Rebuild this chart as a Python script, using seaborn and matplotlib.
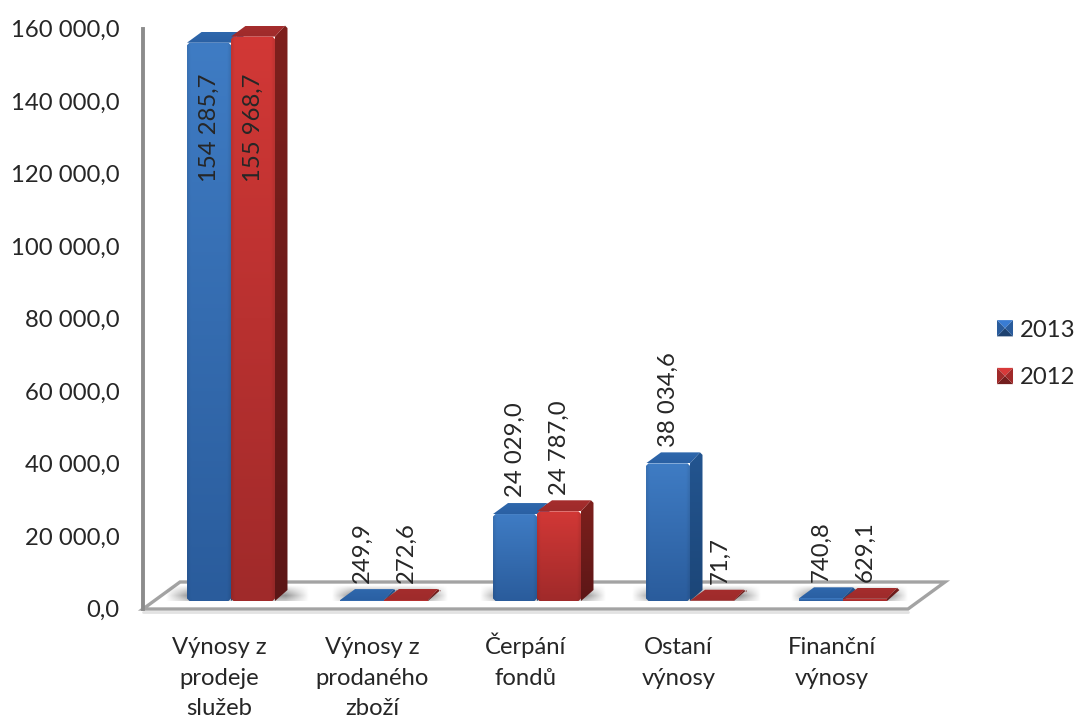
import numpy as np
import pandas as pd
import matplotlib
matplotlib.use('Agg')
import matplotlib.pyplot as plt
from matplotlib.colors import to_rgb
from matplotlib.legend_handler import HandlerBase
from matplotlib.lines import Line2D
from matplotlib.patches import Polygon, Rectangle
import seaborn as sns

categories = ['Výnosy z\nprodeje\nslužeb', 'Výnosy z\nprodaného\nzboží', 'Čerpání\nfondů',
              'Ostaní\nvýnosy', 'Finanční\nvýnosy']
values_2013 = [154285.7, 249.9, 24029.0, 38034.6, 740.8]
values_2012 = [155968.7, 272.6, 24787.0, 71.7, 629.1]
series_names = ['2013', '2012']
y_ticks = [0, 20000, 40000, 60000, 80000, 100000, 120000, 140000, 160000]

W, H = 1076, 718
FONT = 'Lato'
FS = 17.2
TEXT = '#262626'
GREY = '#a3a3a3'
DEPTH_X, DEPTH_Y = 12.5, 11  # pixels
CHAMFER = 2.5  # pixels
colors = {
    '2013': dict(front=('#3f7cc4', '#2a5c9c'), top=('#2f68ad', '#2a60a3'), side=('#235590', '#1c4678')),
    '2012': dict(front=('#d23836', '#a02a2a'), top=('#a52d2d', '#9e2b2b'), side=('#7e201d', '#5c1616')),
}

sns.set_theme(style='white', font=FONT)
plt.rcParams['font.family'] = [FONT, 'DejaVu Sans']


def fmt(v):
    return f'{v:,.1f}'.replace(',', ' ').replace('.', ',')


def rect_px(left, top, right, bottom):
    return [left / W, 1 - bottom / H, (right - left) / W, (bottom - top) / H]


def gradient(ax, pts, top, bottom, zorder, bevel=False):
    # paints a polygon with a vertical colour ramp
    pts = np.array(pts)
    c0, c1 = np.array(to_rgb(top)), np.array(to_rgb(bottom))
    ramp = np.linspace(0, 1, 200)[:, None, None]
    img = np.repeat(c0 + (c1 - c0) * ramp, 40, axis=1)
    if bevel:
        u = np.linspace(0, 1, 40)
        edge = 0.92 + 0.08 * np.clip(np.minimum(u, 1 - u) / 0.08, 0, 1)
        img = img * edge[None, :, None]
    x0, x1, y0, y1 = pts[:, 0].min(), pts[:, 0].max(), pts[:, 1].min(), pts[:, 1].max()
    im = ax.imshow(img, extent=(x0, x1, y0, y1), origin='upper', aspect='auto',
                   zorder=zorder, interpolation='bilinear')
    clip = Polygon(pts, closed=True, transform=ax.transData, fc='none', ec='none')
    ax.add_patch(clip)
    im.set_clip_path(clip)


def shadow(ax, x0, x1, y0, y1, zorder, fade):
    # soft grey pool around the foot of a bar pair
    u = np.linspace(0, 1, 300)
    v = np.linspace(0, 1, 40)
    a = np.outer(np.clip(np.minimum(v, 1 - v) / 0.5, 0, 1), np.clip(np.minimum(u, 1 - u) / fade, 0, 1))
    img = np.zeros((40, 300, 4))
    img[..., :3] = 0.4
    img[..., 3] = a * 0.7
    ax.imshow(img, extent=(x0, x1, y0, y1), aspect='auto', zorder=zorder, interpolation='bilinear')


class PyramidHandler(HandlerBase):
    def create_artists(self, legend, orig, xd, yd, width, height, fontsize, trans):
        c = np.array(to_rgb(orig.get_facecolor()))
        x0, y0 = -xd, -yd
        x1, y1 = x0 + width, y0 + height
        mx, my = (x0 + x1) / 2, (y0 + y1) / 2
        sides = [([(x0, y1), (x1, y1), (mx, my)], 1.35), ([(x0, y0), (x1, y0), (mx, my)], 0.72),
                 ([(x0, y0), (x0, y1), (mx, my)], 1.0), ([(x1, y0), (x1, y1), (mx, my)], 1.0)]
        return [Polygon(p, closed=True, fc=np.clip(c * k, 0, 1), ec='none', transform=trans) for p, k in sides]


df = pd.DataFrame({
    'category': categories * 2,
    'value': values_2013 + values_2012,
    'year': [series_names[0]] * 5 + [series_names[1]] * 5,
})

fig = plt.figure(figsize=(W / 100, H / 100), dpi=100, facecolor='white')

# floor of the 3D box, with the faint line under its front edge
floor = [(143, 609), (908, 609), (945, 582), (180, 582)]
fig.add_artist(Line2D([143 / W, 908 / W], [1 - 612 / H, 1 - 612 / H], color='#e2e2e2', lw=2,
                      transform=fig.transFigure, zorder=-2))
fig.add_artist(Polygon([(x / W, 1 - y / H) for x, y in floor], closed=True, fc='white', ec=GREY,
                       lw=2.4, transform=fig.transFigure, zorder=-1))

# wall axes carries the ticks, bars sit further back on the floor
wall = fig.add_axes(rect_px(143, 28.5, 908, 608.5))
wall.patch.set_alpha(0)
wall.set_xlim(-0.5, 4.5)
wall.set_ylim(0, 160000)
# baseline alignment goes by the last line, so two-line labels get an empty third line
wall.set_xticks(range(5), [c if c.count('\n') == 2 else c + '\n ' for c in categories])
wall.set_yticks(y_ticks, [fmt(v) for v in y_ticks])
wall.tick_params(axis='both', length=0, labelsize=FS, colors=TEXT)
wall.tick_params(axis='y', pad=17)
wall.tick_params(axis='x', pad=77)
for lab in wall.get_xticklabels():
    lab.set_linespacing(1.58)
    lab.set_va('baseline')
sns.despine(ax=wall, bottom=True)
wall.spines['left'].set_color('#8c8c8c')
wall.spines['left'].set_linewidth(2.8)

ax = fig.add_axes(rect_px(154.5, 22, 919.5, 601))
ax.patch.set_alpha(0)
sns.barplot(data=df, x='category', y='value', hue='year', hue_order=series_names, ax=ax,
            palette=['#2f68ad', '#b32f2f'], width=0.575, gap=0, dodge=True, legend=False, errorbar=None)
ax.set_xlim(-0.5, 4.5)
ax.set_ylim(0, 160000)
ax.set_xlabel('')
ax.set_ylabel('')
ax.axis('off')

px_x = 5 / 765
px_y = 160000 / 579
dx = DEPTH_X * px_x
dy = DEPTH_Y * px_y
cx = CHAMFER * px_x
cy = CHAMFER * px_y

bars = []
for name, cont in zip(series_names, ax.containers):
    for i, p in enumerate(cont.patches):
        bars.append((p.get_x(), i, name, p))
bars.sort(key=lambda b: b[0])

# shadows first, one per category
tallest = max(values_2013 + values_2012)
for i in range(5):
    group = [b[3] for b in bars if b[1] == i]
    left = min(p.get_x() for p in group)
    right = max(p.get_x() + p.get_width() for p in group) + dx
    extra = (7 + 14 * np.sqrt(max(p.get_height() for p in group) / tallest)) * px_x
    shadow(ax, left - extra, right + extra, -5 * px_y, 16 * px_y, 1, 0.16)

z = 2
for x, i, name, p in bars:
    w, h = p.get_width(), p.get_height()
    p.set_visible(False)
    c = colors[name]
    gradient(ax, [(x + w, 0), (x + w + dx, dy), (x + w + dx, h + dy - cy), (x + w + dx - cx, h + dy), (x + w, h)],
             *c['side'], z)
    gradient(ax, [(x, h), (x + w, h), (x + w + dx - cx, h + dy), (x + dx + cx, h + dy)], *c['top'], z + 0.1)
    if h > 2 * cy:
        front = [(x + cx, 0), (x + w - cx, 0), (x + w, cy), (x + w, h - cy), (x + w - cx, h), (x + cx, h),
                 (x, h - cy), (x, cy)]
        gradient(ax, front, *c['front'], z + 0.2, bevel=True)
    else:
        gradient(ax, [(x, 0), (x + w, 0), (x + w, h), (x, h)], *c['front'], z + 0.2)
    z += 1

    group_min = min(values_2013[i], values_2012[i])
    if h > 100000:
        ax.annotate(fmt(h), (x + w / 2, group_min), xytext=(0.5, -22), textcoords='offset points',
                    rotation=90, ha='center', va='top', fontsize=FS, color=TEXT, zorder=50)
    else:
        # the small Ostaní label was pushed clear of the neighbouring bar
        nudge = 6 if name == '2012' and i == 3 else 0
        ax.annotate(fmt(h), (x + w / 2, h), xytext=(nudge, 12), textcoords='offset points',
                    rotation=90, ha='center', va='bottom', fontsize=FS, color=TEXT, zorder=50,
                    annotation_clip=False)

ax.set_xlim(-0.5, 4.5)
ax.set_ylim(0, 160000)

handles = [Rectangle((0, 0), 1, 1, fc=colors[n]['front'][1]) for n in series_names]
fig.legend(handles, series_names, loc='center left', bbox_to_anchor=(997 / W, 1 - 354 / H),
           frameon=False, fontsize=FS, labelcolor=TEXT, handlelength=0.67, handleheight=0.67,
           handletextpad=0.3, labelspacing=1.12, borderpad=0, borderaxespad=0,
           handler_map={Rectangle: PyramidHandler()})

fig.savefig('out.png', dpi=100)
